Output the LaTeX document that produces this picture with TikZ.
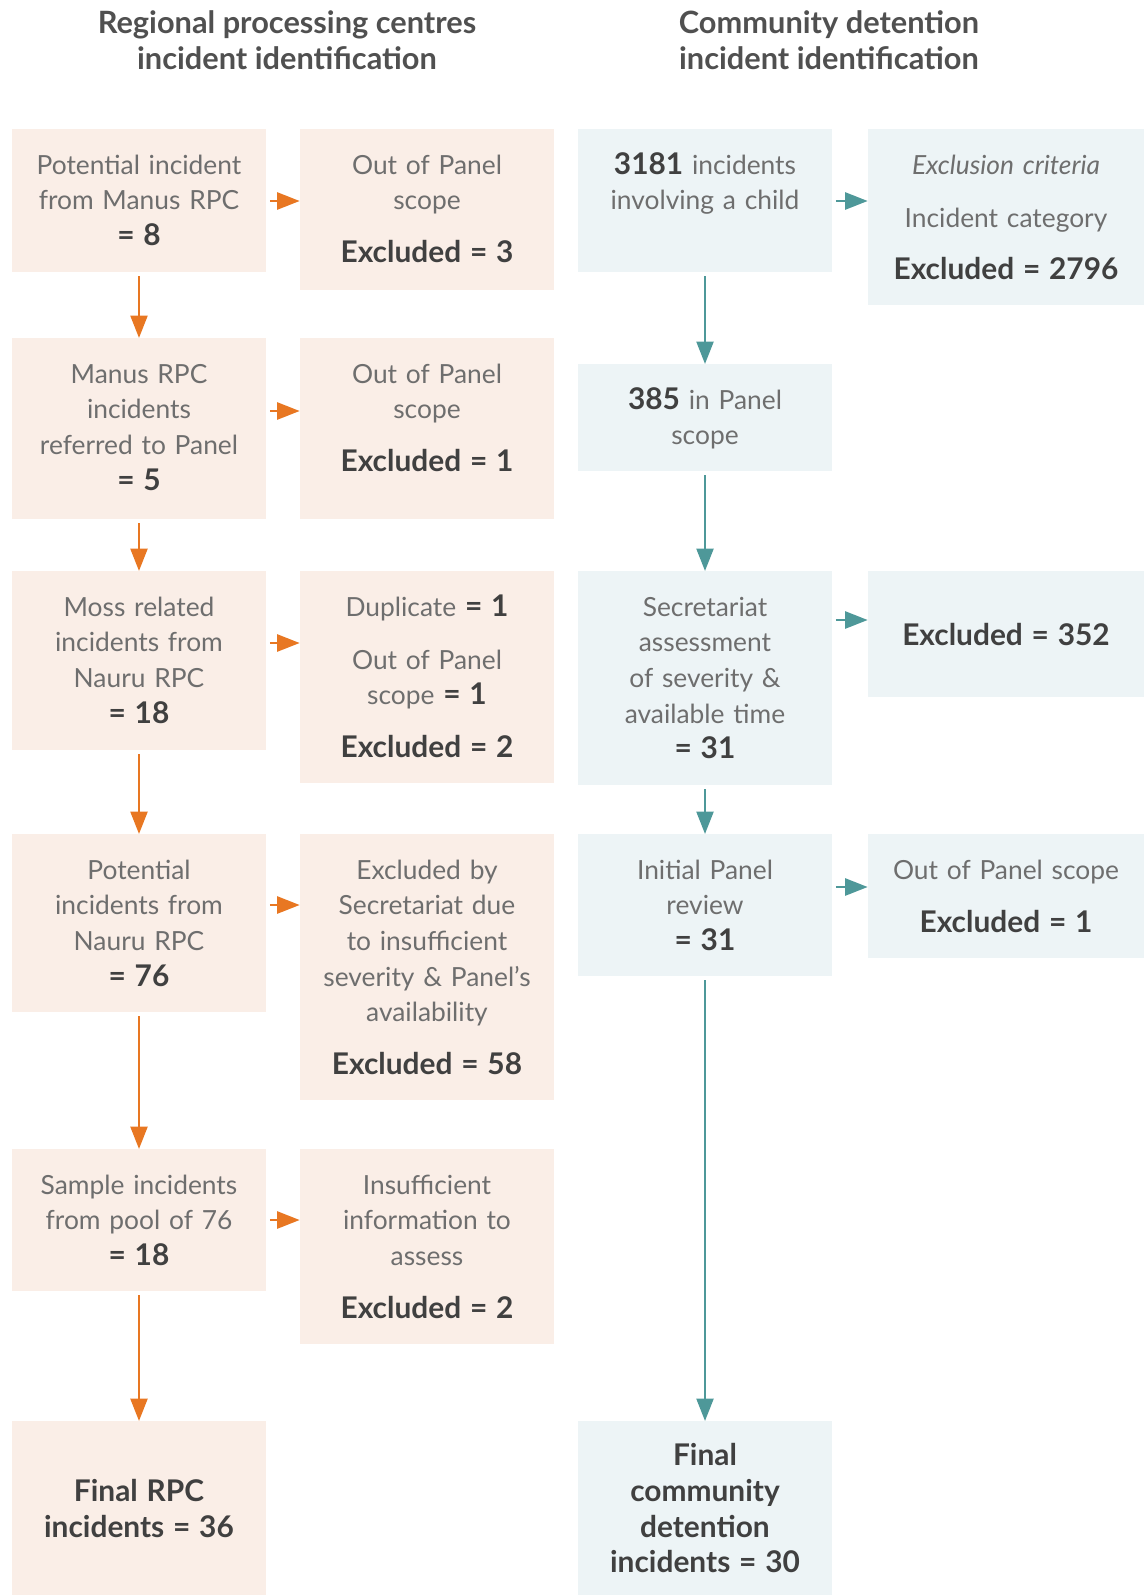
\documentclass[tikz,border=0pt]{standalone}
\usepackage{fontspec}
\setmainfont{Lato}
\usetikzlibrary{arrows.meta}

\definecolor{rpcfill}{RGB}{250,238,231}
\definecolor{cdfill}{RGB}{237,244,246}
\definecolor{rpcline}{RGB}{232,119,34}
\definecolor{cdline}{RGB}{78,152,153}
\definecolor{textgray}{RGB}{110,110,110}
\definecolor{boldgray}{RGB}{64,64,64}
\definecolor{titlegray}{RGB}{80,80,80}

\newcommand{\bval}[1]{{\fontsize{17}{20.26}\selectfont\bfseries\color{boldgray}#1}}

\begin{document}
\begin{tikzpicture}[x=0.02cm, y=-0.02cm]
    % Define styles for boxes and arrows
    \tikzset{
        box/.style={anchor=north, inner sep=0pt, align=center, text=textgray, font=\fontsize{15}{20.26}\selectfont},
        rpc/.style={box, fill=rpcfill, text width=4.9cm, minimum width=5.08cm},
        cd/.style={box, fill=cdfill, text width=4.9cm, minimum width=5.08cm},
        cdwide/.style={box, fill=cdfill, text width=5.3cm, minimum width=5.52cm},
        toptext/.style={text height=0.9cm, text depth=#1},
        heading/.style={align=center, text=titlegray, font=\fontsize{17.5}{20.26}\selectfont\bfseries},
        rpcarrow/.style={draw=rpcline, line width=1.4pt, shorten <=2pt, -{Triangle[length=0.45cm, width=0.34cm]}},
        cdarrow/.style={draw=cdline, line width=1.4pt, shorten <=2pt, -{Triangle[length=0.45cm, width=0.34cm]}}
    }
    \useasboundingbox (0,0) rectangle (1144,1595);

    % Headings
    \node[heading] (rpc_title) at (287,40) {Regional processing centres\\incident identification};
    \node[heading] (cd_title) at (829,40) {Community detention\\incident identification};

    % LEFT COLUMNS: regional processing centres
    \begin{scope}
        % Boxes
        \node[rpc, toptext=1.96cm] (rpc_manus) at (139,129) {Potential incident\\from Manus RPC\\\bval{= 8}};
        \node[rpc, toptext=2.32cm] (rpc_manus_out) at (427,129) {Out of Panel\\scope\\[9.8pt]\bval{Excluded = 3}};
        \node[rpc, toptext=2.72cm] (rpc_referred) at (139,338) {Manus RPC\\incidents\\referred to Panel\\\bval{= 5}};
        \node[rpc, toptext=2.72cm] (rpc_referred_out) at (427,338) {Out of Panel\\scope\\[9.8pt]\bval{Excluded = 1}};
        \node[rpc, toptext=2.68cm] (rpc_moss) at (139,571) {Moss related\\incidents from\\Nauru RPC\\\bval{= 18}};
        \node[rpc, toptext=3.34cm] (rpc_moss_out) at (427,571) {Duplicate \bval{= 1}\\[9.8pt]Out of Panel\\scope \bval{= 1}\\[9.8pt]\bval{Excluded = 2}};
        \node[rpc, toptext=2.66cm] (rpc_nauru) at (139,834) {Potential\\incidents from\\Nauru RPC\\\bval{= 76}};
        \node[rpc, toptext=4.42cm] (rpc_nauru_out) at (427,834) {Excluded by\\Secretariat due\\to insufficient\\severity \& Panel's\\availability\\[9.8pt]\bval{Excluded = 58}};
        \node[rpc, toptext=1.94cm] (rpc_sample) at (139,1149) {Sample incidents\\from pool of 76\\\bval{= 18}};
        \node[rpc, toptext=3.00cm] (rpc_sample_out) at (427,1149) {Insufficient\\information to\\assess\\[9.8pt]\bval{Excluded = 2}};
        \node[rpc, minimum height=3.48cm] (rpc_final) at (139,1421) {\bval{Final RPC}\\\bval{incidents = 36}};

        % Arrows
        \draw[rpcarrow] (rpc_manus) -- (rpc_referred);
        \draw[rpcarrow] (rpc_referred) -- (rpc_moss);
        \draw[rpcarrow] (rpc_moss) -- (rpc_nauru);
        \draw[rpcarrow] (rpc_nauru) -- (rpc_sample);
        \draw[rpcarrow] (rpc_sample) -- (rpc_final);
        \draw[rpcarrow] (rpc_manus.east |- 0,201) -- (rpc_manus_out.west |- 0,201);
        \draw[rpcarrow] (rpc_referred.east |- 0,411) -- (rpc_referred_out.west |- 0,411);
        \draw[rpcarrow] (rpc_moss.east |- 0,643) -- (rpc_moss_out.west |- 0,643);
        \draw[rpcarrow] (rpc_nauru.east |- 0,905) -- (rpc_nauru_out.west |- 0,905);
        \draw[rpcarrow] (rpc_sample.east |- 0,1220) -- (rpc_sample_out.west |- 0,1220);
    \end{scope}

    % RIGHT COLUMNS: community detention
    \begin{scope}
        % Boxes
        \node[cd, toptext=1.96cm] (cd_child) at (705,129) {\bval{3181} incidents\\involving a child};
        \node[cdwide, toptext=2.62cm] (cd_child_out) at (1006,129) {\textit{Exclusion criteria}\\[9.8pt]Incident category\\[9.8pt]\bval{Excluded = 2796}};
        \node[cd, toptext=1.24cm] (cd_scope) at (705,364) {\bval{385} in Panel\\scope};
        \node[cd, toptext=3.38cm] (cd_assess) at (705,571) {Secretariat\\assessment\\of severity \&\\available time\\\bval{= 31}};
        \node[cdwide, minimum height=2.52cm] (cd_assess_out) at (1006,571) {\bval{Excluded = 352}};
        \node[cd, toptext=1.94cm] (cd_review) at (705,834) {Initial Panel\\review\\\bval{= 31}};
        \node[cdwide, toptext=1.58cm] (cd_review_out) at (1006,834) {Out of Panel scope\\[9.8pt]\bval{Excluded = 1}};
        \node[cd, minimum height=3.48cm] (cd_final) at (705,1421) {\bval{Final}\\\bval{community}\\\bval{detention}\\\bval{incidents = 30}};

        % Arrows
        \draw[cdarrow] (cd_child) -- (cd_scope);
        \draw[cdarrow] (cd_scope) -- (cd_assess);
        \draw[cdarrow] (cd_assess) -- (cd_review);
        \draw[cdarrow] (cd_review) -- (cd_final);
        \draw[cdarrow] (cd_child.east |- 0,201) -- (cd_child_out.west |- 0,201);
        \draw[cdarrow] (cd_assess.east |- 0,620) -- (cd_assess_out.west |- 0,620);
        \draw[cdarrow] (cd_review.east |- 0,887) -- (cd_review_out.west |- 0,887);
    \end{scope}

\end{tikzpicture}
\end{document}
